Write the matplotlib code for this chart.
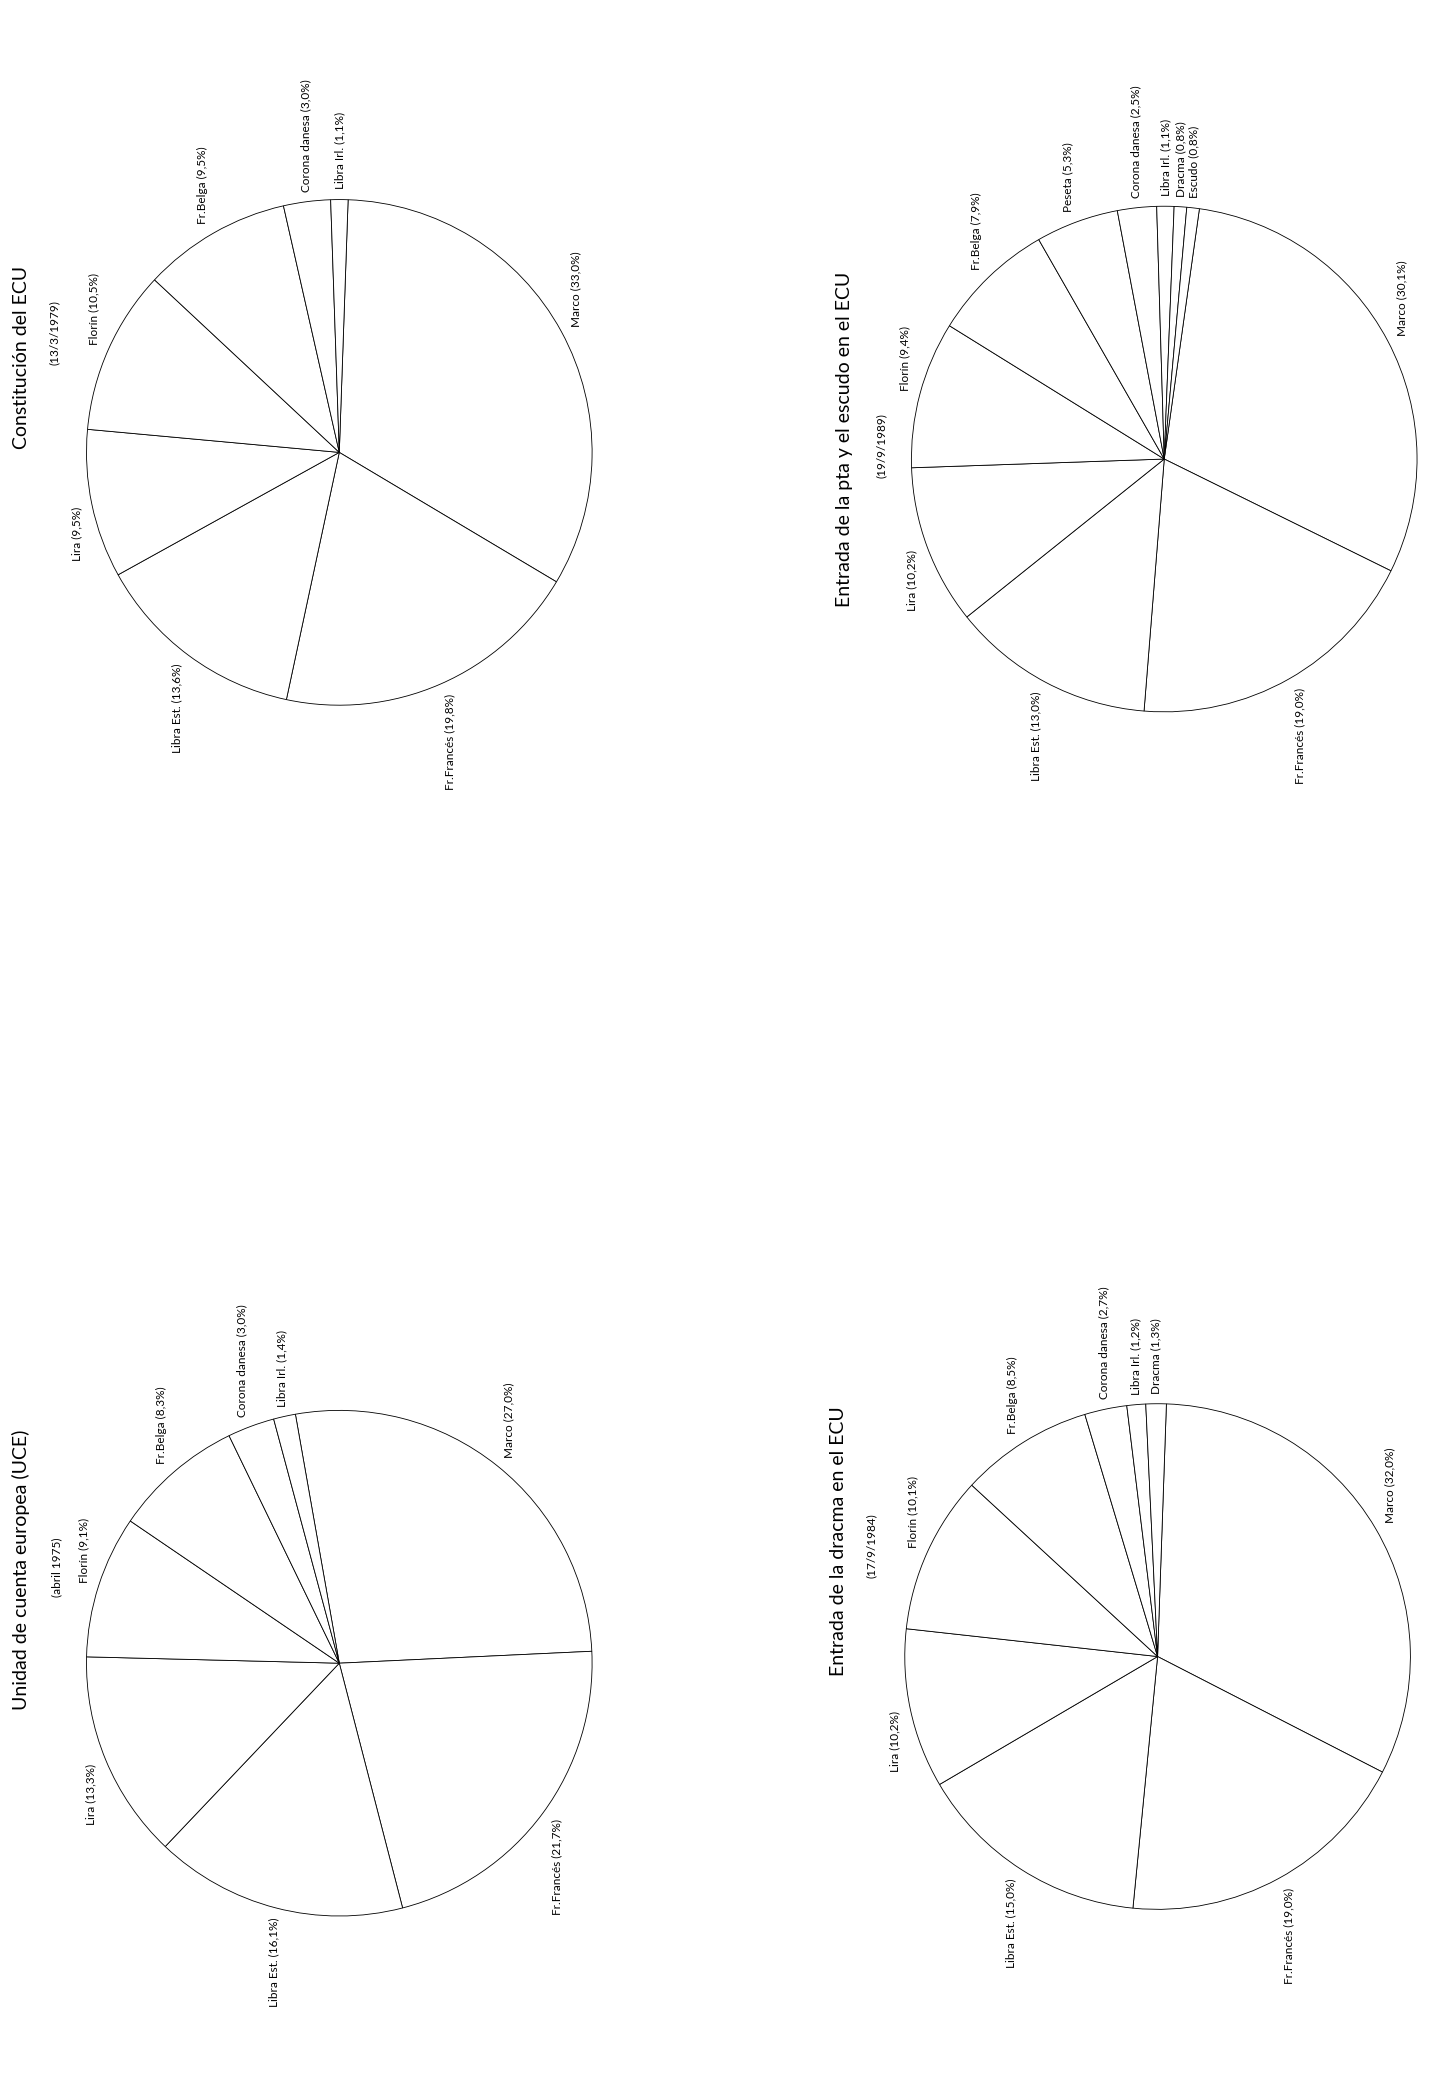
import matplotlib
matplotlib.use("Agg")
import matplotlib.pyplot as plt
import numpy as np

plt.rcParams['font.family'] = ['Lato', 'DejaVu Sans']

lab_a = ["Marco (33,0%)", "Fr.Francés (19,8%)", "Libra Est. (13,6%)", "Lira (9,5%)", "Florín (10,5%)", "Fr.Belga (9,5%)", "Corona danesa (3,0%)", "Libra Irl. (1,1%)"]
val_a = [33.0, 19.8, 13.6, 9.5, 10.5, 9.5, 3.0, 1.1]
lab_b = ["Marco (30,1%)", "Fr.Francés (19,0%)", "Libra Est. (13,0%)", "Lira (10,2%)", "Florín (9,4%)", "Fr.Belga (7,9%)", "Peseta (5,3%)", "Corona danesa (2,5%)", "Libra Irl. (1,1%)", "Dracma (0,8%)", "Escudo (0,8%)"]
val_b = [30.1, 19.0, 13.0, 10.2, 9.4, 7.9, 5.3, 2.5, 1.1, 0.8, 0.8]
lab_c = ["Marco (27,0%)", "Fr.Francés (21,7%)", "Libra Est. (16,1%)", "Lira (13,3%)", "Florín (9,1%)", "Fr.Belga (8,3%)", "Corona danesa (3,0%)", "Libra Irl. (1,4%)"]
val_c = [27.0, 21.7, 16.1, 13.3, 9.1, 8.3, 3.0, 1.4]
lab_d = ["Marco (32,0%)", "Fr.Francés (19,0%)", "Libra Est. (15,0%)", "Lira (10,2%)", "Florín (10,1%)", "Fr.Belga (8,5%)", "Corona danesa (2,7%)", "Libra Irl. (1,2%)", "Dracma (1,3%)"]
val_d = [32.0, 19.0, 15.0, 10.2, 10.1, 8.5, 2.7, 1.2, 1.3]

W, H = 1437, 2075
k = 1437 / 1080
fig = plt.figure(figsize=(W/100, H/100), dpi=100)
ax = fig.add_axes([0, 0, 1, 1])

R = 190 * k
pies = [
    (val_a, lab_a, 255, 340, 88, "Constitución del ECU", "(13/3/1979)", 16, 269, 41, 250),
    (val_b, lab_b, 875, 345, 82, "Entrada de la pta y el escudo en el ECU", "(19/9/1989)", 635, 330, 662, 335),
    (val_c, lab_c, 255, 1250, 100, "Unidad de cuenta europea (UCE)", "(abril 1975)", 16, 1180, 43, 1178),
    (val_d, lab_d, 870, 1245, 88, "Entrada de la dracma en el ECU", "(17/9/1984)", 630, 1158, 655, 1162),
]
for vals, labs, cx, cy, start, t1, t2, tx, ty, tx2, ty2 in pies:
    cx, cy = cx * k, cy * k
    ax.pie(vals, center=(cx, cy), radius=R, startangle=-start, counterclock=True,
           colors=['white'] * len(vals),
           wedgeprops=dict(edgecolor='black', linewidth=0.6), frame=True)
    tot = sum(vals)
    a0 = start
    for v, lab in zip(vals, labs):
        mid = np.deg2rad(a0 - v / tot * 360 / 2)
        a0 -= v / tot * 360
        x = cx + R * 1.04 * np.cos(mid)
        y = cy - R * 1.04 * np.sin(mid)
        ha = 'left' if np.cos(mid) > 0.3 else ('right' if np.cos(mid) < -0.3 else 'center')
        va = 'bottom' if np.sin(mid) > 0 else 'top'
        ax.text(x, y, lab, rotation=90, ha=ha, va=va, fontsize=8.5)
    ax.text(tx * k, ty * k, t1, rotation=90, ha='center', va='center', fontsize=14)
    ax.text(tx2 * k, ty2 * k, t2, rotation=90, ha='center', va='center', fontsize=8.5)
ax.set_xlim(0, W); ax.set_ylim(H, 0); ax.set_aspect('equal')
ax.axis('off')
fig.savefig("out.png", dpi=100, facecolor='white')
